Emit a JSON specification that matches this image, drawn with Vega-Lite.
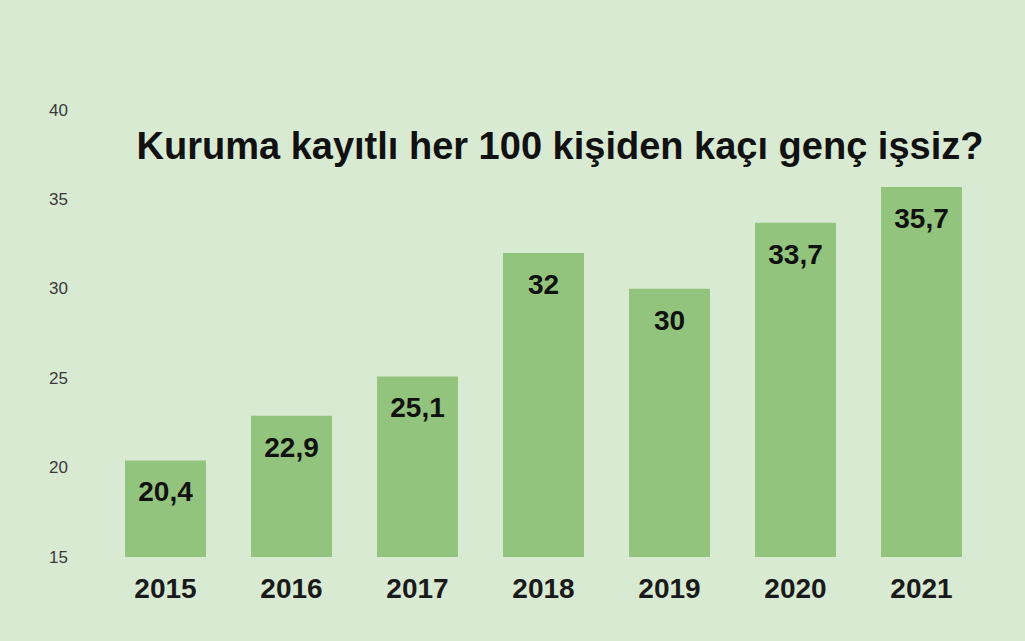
{
  "$schema": "https://vega.github.io/schema/vega-lite/v6.json",
  "width": 882,
  "height": 447,
  "autosize": {"type": "none"},
  "padding": {"left": 102.5, "top": 110, "right": 40.5, "bottom": 84},
  "background": "#d9ead3",
  "title": {
    "text": "Kuruma kayıtlı her 100 kişiden kaçı genç işsiz?",
    "anchor": "start",
    "dx": 88,
    "offset": -85,
    "font": "Liberation Sans",
    "fontSize": 38,
    "fontWeight": "bold",
    "color": "#111111",
    "baseline": "middle"
  },
  "config": {
    "view": {"stroke": null},
    "font": "Liberation Sans"
  },
  "data": {
    "values": [
      {"year": "2015", "value": 20.4, "label": "20,4"},
      {"year": "2016", "value": 22.9, "label": "22,9"},
      {"year": "2017", "value": 25.1, "label": "25,1"},
      {"year": "2018", "value": 32, "label": "32"},
      {"year": "2019", "value": 30, "label": "30"},
      {"year": "2020", "value": 33.7, "label": "33,7"},
      {"year": "2021", "value": 35.7, "label": "35,7"}
    ]
  },
  "encoding": {
    "x": {
      "field": "year",
      "type": "nominal",
      "scale": {"paddingInner": 0.357, "paddingOuter": 0.1785},
      "axis": {
        "title": null,
        "labelAngle": 0,
        "domain": false,
        "ticks": false,
        "labelFont": "Liberation Sans",
        "labelFontSize": 28,
        "labelFontWeight": "bold",
        "labelColor": "#1a1a1a",
        "labelPadding": 18
      }
    },
    "y": {
      "field": "value",
      "type": "quantitative",
      "scale": {"domain": [15, 40], "zero": false, "nice": false},
      "axis": {
        "title": null,
        "values": [15, 20, 25, 30, 35, 40],
        "domain": false,
        "ticks": false,
        "grid": false,
        "labelFont": "Liberation Sans",
        "labelFontSize": 17,
        "labelColor": "#3a3a3a",
        "labelAlign": "left",
        "labelPadding": 54
      }
    }
  },
  "layer": [
    {
      "mark": {"type": "bar", "color": "#93c47d"},
      "encoding": {"y2": {"datum": 15}}
    },
    {
      "mark": {
        "type": "text",
        "baseline": "middle",
        "dy": 33,
        "font": "Liberation Sans",
        "fontSize": 28,
        "fontWeight": "bold",
        "color": "#111111"
      },
      "encoding": {"text": {"field": "label"}}
    }
  ]
}
